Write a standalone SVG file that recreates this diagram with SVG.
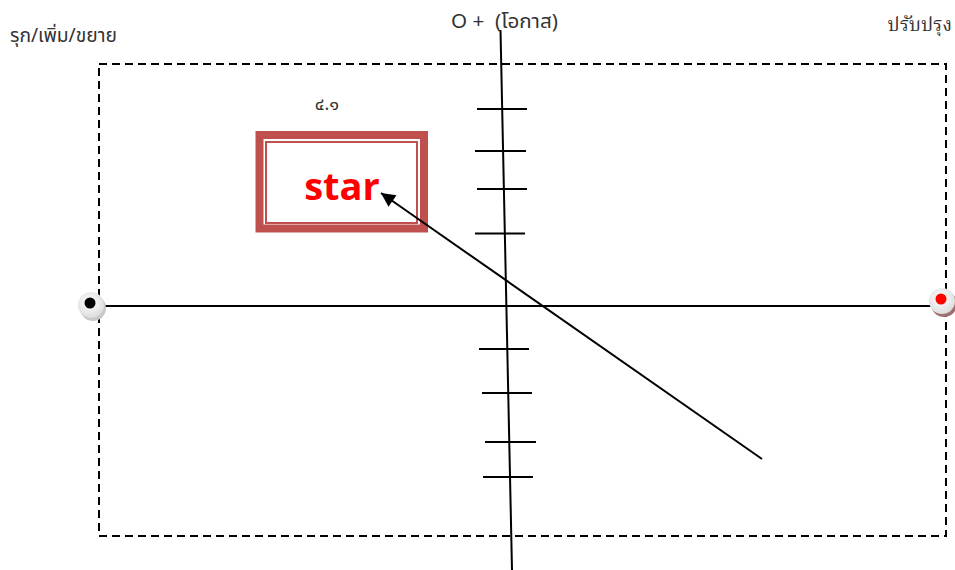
<svg xmlns="http://www.w3.org/2000/svg" width="955" height="570" viewBox="0 0 955 570">
<defs>
<style>
.lbl{font-family:"Noto Sans Thai","Noto Sans","DejaVu Sans","Liberation Sans",sans-serif;font-size:19px;fill:#333;white-space:pre}
.tick{stroke:#000;stroke-width:2}
.ln{stroke:#000;stroke-width:2;fill:none}
</style>
<marker id="ah" markerWidth="16" markerHeight="14" refX="10" refY="5" orient="auto" markerUnits="userSpaceOnUse" viewBox="0 0 10 10">
<path d="M0,0 L10,5 L0,10 z" fill="#000"/>
</marker>
<radialGradient id="g1" cx="0.45" cy="0.4" r="0.6">
<stop offset="0" stop-color="#fff"/><stop offset="1" stop-color="#ddd"/>
</radialGradient>
</defs>
<rect width="955" height="570" fill="#fff"/>
<g id="frame">
<rect x="99" y="64" width="847" height="472" fill="none" stroke="#000" stroke-width="2" stroke-dasharray="8,5"/>
</g>
<g id="labels">
<text class="lbl" x="10" y="42" textLength="107" lengthAdjust="spacingAndGlyphs">รุก/เพิ่ม/ขยาย</text>
<text class="lbl" x="451" y="28" xml:space="preserve" textLength="107" lengthAdjust="spacingAndGlyphs">O +  (โอกาส)</text>
<text class="lbl" x="952" y="31" text-anchor="end" style="font-family:'Liberation Serif','Noto Serif Thai',serif;font-size:19px">ปรับปรุง</text>
<text class="lbl" x="327" y="110" text-anchor="middle" style="font-size:18px">๔.๑</text>
</g>
<g id="star">
<rect x="259.5" y="135" width="164.5" height="93.5" fill="#fff" stroke="#C0504D" stroke-width="8"/>
<rect x="266" y="142" width="151" height="81" fill="none" stroke="#C0504D" stroke-width="2"/>
<text x="342" y="200" text-anchor="middle" font-family="'Open Sans','Liberation Sans',sans-serif" font-weight="bold" font-size="38" fill="#f00">star</text>
</g>
<g id="connectors">
<line class="ln" x1="100" y1="306" x2="955" y2="306"/>
<line class="ln" x1="500.5" y1="30" x2="512" y2="570"/>
<line class="tick" x1="477" y1="109" x2="527" y2="109"/>
<line class="tick" x1="475" y1="151" x2="526" y2="151"/>
<line class="tick" x1="477" y1="189" x2="527" y2="189"/>
<line class="tick" x1="475" y1="233.5" x2="525" y2="233.5"/>
<line class="tick" x1="479" y1="349" x2="529" y2="349"/>
<line class="tick" x1="482" y1="393" x2="532" y2="393"/>
<line class="tick" x1="485" y1="442" x2="536" y2="442"/>
<line class="tick" x1="483" y1="477" x2="533" y2="477"/>
<line class="ln" x1="762" y1="459" x2="381" y2="193" marker-end="url(#ah)"/>
</g>
<g id="left-point">
<circle cx="93" cy="308" r="13" fill="#c8c8c8"/>
<circle cx="91" cy="305" r="13" fill="url(#g1)"/>
<circle cx="90" cy="303" r="5.5" fill="#000"/>
</g>
<g id="right-point">
<circle cx="944" cy="304" r="13" fill="#a07070"/>
<circle cx="942" cy="301" r="13" fill="url(#g1)"/>
<circle cx="941" cy="299" r="5.5" fill="#f00"/>
</g>
</svg>
